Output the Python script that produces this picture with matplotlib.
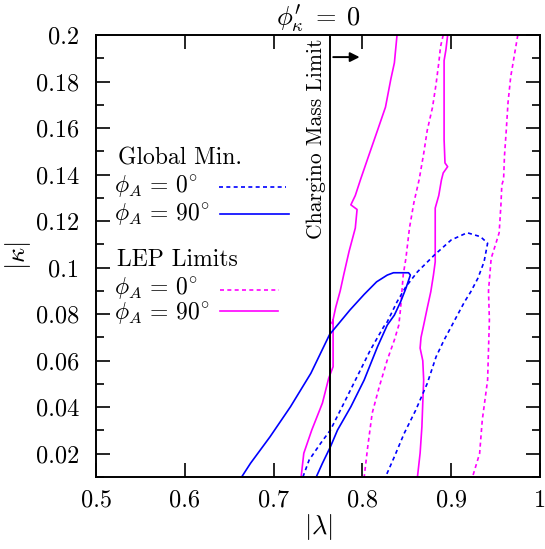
import numpy as np
import matplotlib
matplotlib.use('Agg')
import matplotlib.pyplot as plt

plt.rcParams['font.family'] = 'cmr10'
plt.rcParams['mathtext.fontset'] = 'cm'
plt.rcParams['axes.formatter.use_mathtext'] = True

# LEP limits, phi_A = 90 deg (solid magenta), left branch.
lep90_left_x = [0.839, 0.836, 0.832, 0.826, 0.817, 0.807, 0.798, 0.792, 0.787, 0.794,
                0.792, 0.785, 0.779, 0.775, 0.770, 0.766, 0.767, 0.767, 0.762, 0.755,
                0.743, 0.734, 0.731]
lep90_left_y = [0.200, 0.188, 0.181, 0.169, 0.159, 0.148, 0.138, 0.131, 0.127, 0.125,
                0.117, 0.107, 0.097, 0.090, 0.083, 0.076, 0.0775, 0.0574, 0.0524, 0.0418,
                0.0302, 0.0202, 0.010]
# LEP limits, phi_A = 90 deg, right branch.
lep90_right_x = [0.896, 0.894, 0.892, 0.892, 0.893, 0.896, 0.891, 0.889, 0.886, 0.882,
                 0.882, 0.880, 0.877, 0.873, 0.869, 0.866, 0.865, 0.868, 0.869, 0.868,
                 0.867, 0.865, 0.862]
lep90_right_y = [0.200, 0.1935, 0.189, 0.155, 0.145, 0.1434, 0.1407, 0.1377, 0.131, 0.1256,
                 0.1025, 0.0968, 0.0896, 0.0826, 0.0753, 0.0700, 0.0654, 0.0600, 0.0517, 0.0420,
                 0.0316, 0.0203, 0.010]
# LEP limits, phi_A = 0 deg (dashed magenta), left branch.
lep0_left_x = [0.891, 0.888, 0.886, 0.883, 0.879, 0.873, 0.869, 0.864, 0.858, 0.853,
               0.849, 0.846, 0.843, 0.841, 0.836, 0.828, 0.819, 0.811, 0.806, 0.802]
lep0_left_y = [0.200, 0.195, 0.188, 0.179, 0.169, 0.159, 0.149, 0.138, 0.128, 0.117,
               0.104, 0.097, 0.0825, 0.0753, 0.0689, 0.0603, 0.0488, 0.0374, 0.0230, 0.010]
# LEP limits, phi_A = 0 deg, right branch.
lep0_right_x = [0.975, 0.971, 0.967, 0.964, 0.962, 0.960, 0.959, 0.957, 0.956, 0.954,
                0.950, 0.945, 0.942, 0.943, 0.941, 0.935, 0.932, 0.924]
lep0_right_y = [0.200, 0.191, 0.182, 0.171, 0.159, 0.148, 0.138, 0.1355, 0.127, 0.115,
                0.110, 0.104, 0.090, 0.0775, 0.0517, 0.0345, 0.0201, 0.010]

# Global minimum, phi_A = 90 deg (solid blue).
gm90_x = [0.664, 0.674, 0.696, 0.719, 0.742, 0.763, 0.786, 0.802, 0.816, 0.828,
          0.835, 0.852, 0.854, 0.849, 0.843, 0.836, 0.828, 0.817, 0.802,
          0.787, 0.772, 0.764, 0.755, 0.748]
gm90_y = [0.010, 0.0159, 0.0273, 0.0402, 0.0546, 0.0712, 0.0818, 0.0885, 0.0939, 0.0968,
          0.0978, 0.0978, 0.0968, 0.0911, 0.0853, 0.0796, 0.0753, 0.0660, 0.0517,
          0.0402, 0.0302, 0.0230, 0.0159, 0.010]
# Global minimum, phi_A = 0 deg (dashed blue).
gm0_x = [0.733, 0.740, 0.753, 0.764, 0.779, 0.794, 0.809, 0.824, 0.828, 0.839,
         0.849, 0.862, 0.881, 0.900, 0.918, 0.933, 0.941, 0.937, 0.930, 0.922,
         0.915, 0.907, 0.901, 0.892, 0.883, 0.873, 0.860, 0.847, 0.836, 0.826]
gm0_y = [0.010, 0.0173, 0.0245, 0.0302, 0.0416, 0.0531, 0.0646, 0.0746, 0.0767, 0.0853,
         0.0918, 0.0982, 0.1054, 0.1119, 0.1150, 0.1133, 0.1105, 0.1025, 0.0954, 0.0896,
         0.0853, 0.0796, 0.0753, 0.0689, 0.0617, 0.0502, 0.0387, 0.0287, 0.0187, 0.010]

chargino_limit = 0.764

blue = '#0000ff'
magenta = '#ff00ff'
lw = 1.2
dash = (0, (2.4, 2.0))

fig = plt.figure(figsize=(5.45, 5.49), dpi=100)
ax = fig.add_axes([96/545, 1-477/549, 444/545, 442/549])

ax.plot(lep90_left_x, lep90_left_y, c=magenta, lw=lw)
ax.plot(lep90_right_x, lep90_right_y, c=magenta, lw=lw)
ax.plot(lep0_left_x, lep0_left_y, c=magenta, lw=lw, ls=dash)
ax.plot(lep0_right_x, lep0_right_y, c=magenta, lw=lw, ls=dash)
ax.plot(gm90_x, gm90_y, c=blue, lw=lw)
ax.plot(gm0_x, gm0_y, c=blue, lw=lw, ls=dash)

# Chargino mass limit with arrow.
ax.axvline(chargino_limit, c='k', lw=1.4)
ax.annotate('', xy=(0.800, 0.1905), xytext=(chargino_limit, 0.1905),
            arrowprops=dict(arrowstyle='-|>', color='k', lw=1.4, mutation_scale=14))
ax.text(0.748, 0.1985, 'Chargino Mass Limit', rotation=90, ha='center', va='top', fontsize=15.5)

# Hand-made legend.
tr = ax.transAxes
fs = 17
deg0 = r'$\phi_A\,=\,0^{\!\circ}$'
deg90 = r'$\phi_A\,=\,90^{\!\circ}$'
ax.text(0.05, 0.706, 'Global Min.', fontsize=fs, va='baseline', transform=tr)
ax.text(0.041, 0.645, deg0, fontsize=fs, va='baseline', transform=tr)
ax.text(0.041, 0.581, deg90, fontsize=fs, va='baseline', transform=tr)
ax.plot([0.277, 0.428], [0.657, 0.657], transform=tr, c=blue, lw=lw, ls=dash)
ax.plot([0.279, 0.435], [0.596, 0.596], transform=tr, c=blue, lw=lw)
ax.text(0.047, 0.478, 'LEP Limits', fontsize=fs, va='baseline', transform=tr)
ax.text(0.041, 0.414, deg0, fontsize=fs, va='baseline', transform=tr)
ax.text(0.041, 0.358, deg90, fontsize=fs, va='baseline', transform=tr)
ax.plot([0.279, 0.412], [0.424, 0.424], transform=tr, c=magenta, lw=lw, ls=dash)
ax.plot([0.279, 0.410], [0.376, 0.376], transform=tr, c=magenta, lw=lw)

ax.set_xlim(0.5, 1.0)
ax.set_ylim(0.01, 0.2)
ax.set_xticks([0.5, 0.6, 0.7, 0.8, 0.9, 1.0])
ax.set_xticklabels(['0.5', '0.6', '0.7', '0.8', '0.9', '1'])
ax.set_yticks([0.02, 0.04, 0.06, 0.08, 0.1, 0.12, 0.14, 0.16, 0.18, 0.2])
ax.set_yticklabels(['0.02', '0.04', '0.06', '0.08', '0.1', '0.12', '0.14', '0.16', '0.18', '0.2'])
ax.set_yticks(np.arange(0.01, 0.2, 0.02), minor=True)
ax.tick_params(which='both', direction='in', top=True, right=True, labelsize=17.5, width=1.2)
ax.tick_params(which='major', length=10)
ax.tick_params(which='minor', length=6)
ax.tick_params(axis='x', pad=9)
ax.tick_params(axis='y', pad=12)
for s in ax.spines.values():
    s.set_linewidth(1.4)

ax.set_xlabel(r'$|\lambda|$', fontsize=19, labelpad=0)
ax.set_ylabel(r'$|\kappa|$', fontsize=19, labelpad=2)
ax.set_title(r"$\phi^{\prime}_{\kappa}\;=\;0$", fontsize=19, pad=4)

fig.savefig('out.png', dpi=100)
